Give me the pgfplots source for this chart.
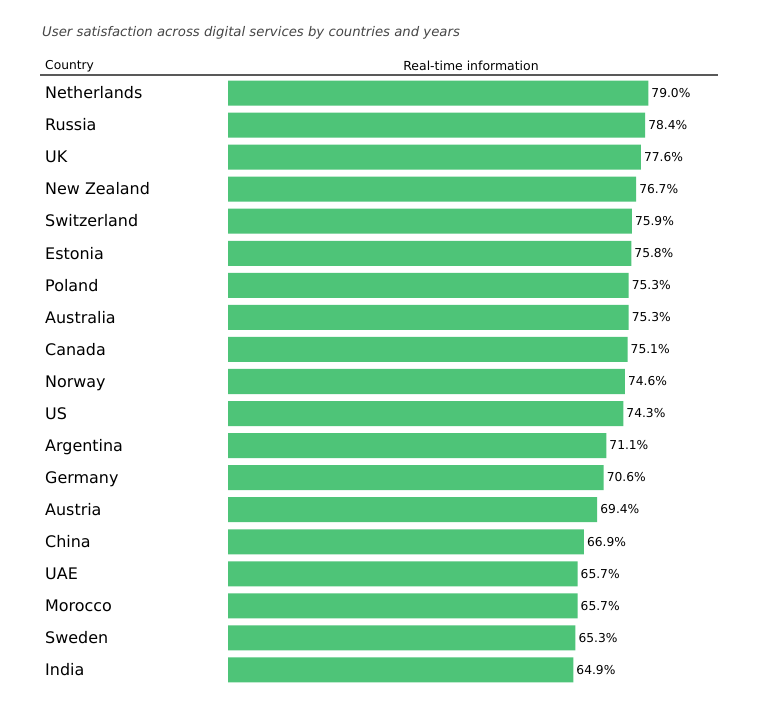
\documentclass[border=0pt]{standalone}
\usepackage{pgfplots}
\pgfplotsset{compat=1.18}
\usepackage{pgfplotstable}
\usepackage{fontspec}
\setmainfont{DejaVu Sans}
\definecolor{bargreen}{RGB}{78,196,120}
\definecolor{titlegray}{RGB}{70,70,70}

\pgfplotstableread[col sep=comma]{
country,value
Netherlands,79.0
Russia,78.4
UK,77.6
New Zealand,76.7
Switzerland,75.9
Estonia,75.8
Poland,75.3
Australia,75.3
Canada,75.1
Norway,74.6
US,74.3
Argentina,71.1
Germany,70.6
Austria,69.4
China,66.9
UAE,65.7
Morocco,65.7
Sweden,65.3
India,64.9
}\satdata

\begin{document}
\begin{tikzpicture}[x=1bp,y=1bp]
\path[use as bounding box, fill=white] (0,0) rectangle (757,703);

% title and header
\node[anchor=west, font=\itshape\fontsize{13.3}{15}\selectfont, text=titlegray, inner sep=0]
  at (42,670) {User satisfaction across digital services by countries and years};
\node[anchor=west, font=\fontsize{12.3}{14}\selectfont, inner sep=0] at (45,637) {Country};
\node[font=\fontsize{12.5}{14}\selectfont, inner sep=0] at (471,637) {Real-time information};
\draw[line width=1.6bp, black!65] (40,628) -- (718,628);

\begin{axis}[
    at={(228bp,17bp)}, anchor=south west,
    scale only axis,
    width=532bp, height=609bp,
    xbar, bar width=0.78,
    xmin=0, xmax=100,
    ymin=-0.5, ymax=18.5,
    y dir=reverse,
    axis line style={draw=none},
    xtick=\empty,
    ytick=data,
    yticklabels from table={\satdata}{country},
    major tick length=0pt,
    yticklabel style={anchor=west, inner sep=0pt, xshift=-183bp,
        text height=12bp, text depth=0.5bp,
        font=\fontsize{16}{18}\selectfont},
    /pgf/number format/assume math mode=true,
    nodes near coords={\pgfmathprintnumber[fixed, fixed zerofill, precision=1]{\pgfplotspointmeta}\%},
    nodes near coords style={font=\fontsize{12.3}{14}\selectfont, anchor=west, inner sep=3bp,
        text height=9bp, text depth=0.5bp},
    point meta=explicit,
    clip=false,
]
\addplot[draw=none, fill=bargreen] table[x=value, y expr=\coordindex, meta=value] {\satdata};
\end{axis}
\end{tikzpicture}
\end{document}
